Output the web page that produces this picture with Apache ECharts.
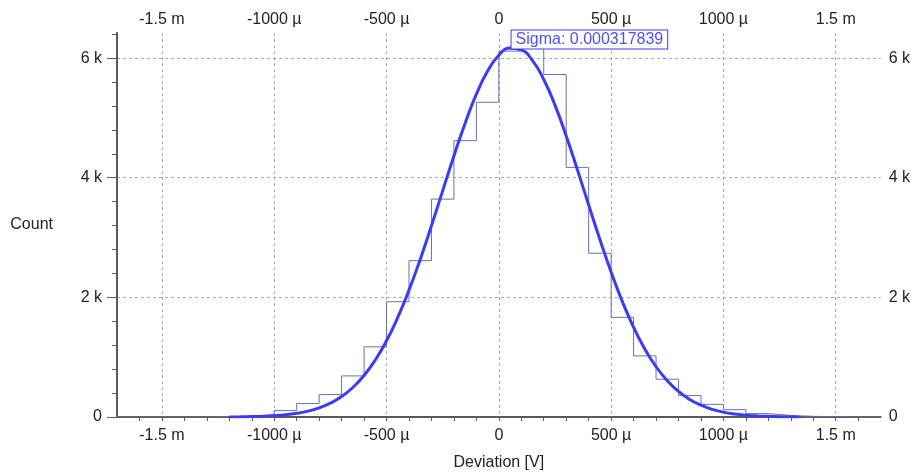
<!DOCTYPE html>
<html><head><meta charset="utf-8">
<script src="https://cdn.jsdelivr.net/npm/echarts@6/dist/echarts.min.js"></script>
<style>html,body{margin:0;padding:0;background:#fff}#c{width:913px;height:476px}</style>
</head><body><div id="c"></div>
<script>
// Histogram bins (left edges in µV) and counts
const binStartMicro = [-1700,-1600,-1500,-1400,-1300,-1200,-1100,-1000,-900,-800,-700,-600,-500,-400,-300,-200,-100,0,100,200,300,400,500,600,700,800,900,1000,1100,1200,1300,1400,1500,1600];
const binCount      = [0,0,0,0,4,12,38,107,224,375,687,1173,1927,2614,3643,4620,5262,6117,6190,5726,4173,2738,1666,1022,632,358,212,123,57,26,11,5,2,0];
const binEndMicro = 1700;
// Fitted curve (µV, count)
const fitXMicro = [-1200,-1150,-1100,-1050,-1000,-950,-900,-850,-800,-750,-700,-650,-600,-550,-500,-450,-400,-350,-300,-250,-200,-150,-100,-50,0,50,100,150,200,250,300,350,400,450,500,550,600,650,700,750,800,850,900,950,1000,1050,1100,1150,1200,1250,1300,1335];
const fitCount  = [2,4,8,13,23,38,62,98,153,231,342,493,694,952,1274,1664,2121,2635,3196,3781,4364,4913,5397,5784,6047,6168,6138,5958,5643,5214,4699,4132,3545,2967,2423,1930,1500,1137,841,607,427,293,197,128,82,51,31,18,11,6,3,2];
const sigma = 0.000317839;
const peakMicro = 50, peakCount = 6168;
// Ticks
const xMajorTicksMicro = [-1500,-1000,-500,0,500,1000,1500];
const xMinorTicksMicro = [-1600,-1500,-1400,-1300,-1200,-1100,-1000,-900,-800,-700,-600,-500,-400,-300,-200,-100,0,100,200,300,400,500,600,700,800,900,1000,1100,1200,1300,1400,1500,1600];
const yMajorTicks = [0,2000,4000,6000];
const yMinorTicks = [0,400,800,1200,1600,2000,2400,2800,3200,3600,4000,4400,4800,5200,5600,6000,6400];
const xMin = -0.0017, xMax = 0.0017, yMin = 0, yMax = 6420;

const U = 1e-6;
const FONT = '"Liberation Sans", Arial, sans-serif';
const txt = '#222';
function fmtX(v){ const u = Math.round(v/U); if (u === 0) return '0'; if (Math.abs(u) > 1000) return (u/1000) + ' m'; return u + ' µ'; }
function fmtY(v){ return v === 0 ? '0' : (v/1000) + ' k'; }
const xMaj = xMajorTicksMicro.map(v => v*U);
const xMin2 = xMinorTicksMicro.map(v => v*U);
const histData = binStartMicro.map((s,i) => [s*U, binCount[i]]).concat([[binEndMicro*U, 0]]);
const fitData = fitXMicro.map((x,i) => [x*U, fitCount[i]]);
const grid = '#a8a8a8';
const axisCol = '#5a5a5a';

const chart = echarts.init(document.getElementById('c'), null, {renderer:'canvas'});
chart.setOption({
  animation: false,
  textStyle: {fontFamily: FONT},
  grid: {left: 117, right: 28, top: 33, bottom: 59, containLabel: false},
  xAxis: [
    {type:'value', position:'bottom', min:xMin, max:xMax,
     axisLine:{show:true, onZero:false, lineStyle:{color:axisCol, width:2}},
     axisTick:{show:true, customValues:xMin2, length:4, lineStyle:{color:axisCol, width:1}},
     axisLabel:{customValues:xMaj, formatter:fmtX, margin:11, fontSize:16, color:txt, fontFamily:FONT},
     splitLine:{show:false},
     name:'Deviation [V]', nameLocation:'middle', nameGap:38,
     nameTextStyle:{fontSize:16, color:txt, fontFamily:FONT}},
    {type:'value', position:'top', min:xMin, max:xMax,
     axisLine:{show:false, onZero:false},
     axisTick:{show:false, customValues:xMaj},
     axisLabel:{customValues:xMaj, formatter:fmtX, margin:5, fontSize:16, color:txt, fontFamily:FONT},
     splitLine:{show:true, lineStyle:{color:grid, type:[3,3], width:1}}}
  ],
  yAxis: [
    {type:'value', position:'left', min:yMin, max:yMax,
     axisLine:{show:true, onZero:false, lineStyle:{color:axisCol, width:2}},
     axisTick:{show:true, customValues:yMajorTicks, length:10, lineStyle:{color:axisCol, width:1}},
     axisLabel:{customValues:yMajorTicks, formatter:fmtY, margin:15, fontSize:16, color:txt, fontFamily:FONT},
     splitLine:{show:true, lineStyle:{color:grid, type:[3,3], width:1}},
     name:'Count', nameLocation:'middle', nameRotate:0, nameGap:64,
     nameTextStyle:{fontSize:16, color:txt, fontFamily:FONT}},
    {type:'value', position:'left', min:yMin, max:yMax,
     axisLine:{show:false, onZero:false},
     axisTick:{show:true, customValues:yMinorTicks, length:5, lineStyle:{color:axisCol, width:1}},
     axisLabel:{show:false}, splitLine:{show:false}},
    {type:'value', position:'right', min:yMin, max:yMax,
     axisLine:{show:false, onZero:false},
     axisTick:{show:false, customValues:yMajorTicks},
     axisLabel:{customValues:yMajorTicks, formatter:fmtY, margin:8, fontSize:16, color:txt, fontFamily:FONT},
     splitLine:{show:false}}
  ],
  series: [
    {type:'line', name:'Histogram', xAxisIndex:0, yAxisIndex:0, step:'end', data:histData,
     showSymbol:false, symbol:'none', lineStyle:{color:'#6e6ea8', width:1}, z:2},
    {type:'line', name:'Fit', xAxisIndex:0, yAxisIndex:0, data:fitData, smooth:true,
     showSymbol:false, symbol:'none', lineStyle:{color:'#3b3bf5', width:3}, z:3,
     markPoint:{symbol:'circle', symbolSize:1, itemStyle:{color:'rgba(0,0,0,0)'},
       data:[{coord:[peakMicro*U, peakCount]}],
       label:{show:true, position:[2,-17], formatter:'Sigma: ' + sigma,
         fontSize:16, fontFamily:FONT, color:'#5050f0', backgroundColor:'#fff',
         borderColor:'#3a3aff', borderWidth:1, padding:[1,4,1,4], lineHeight:16}}}
  ]
});
</script></body></html>
